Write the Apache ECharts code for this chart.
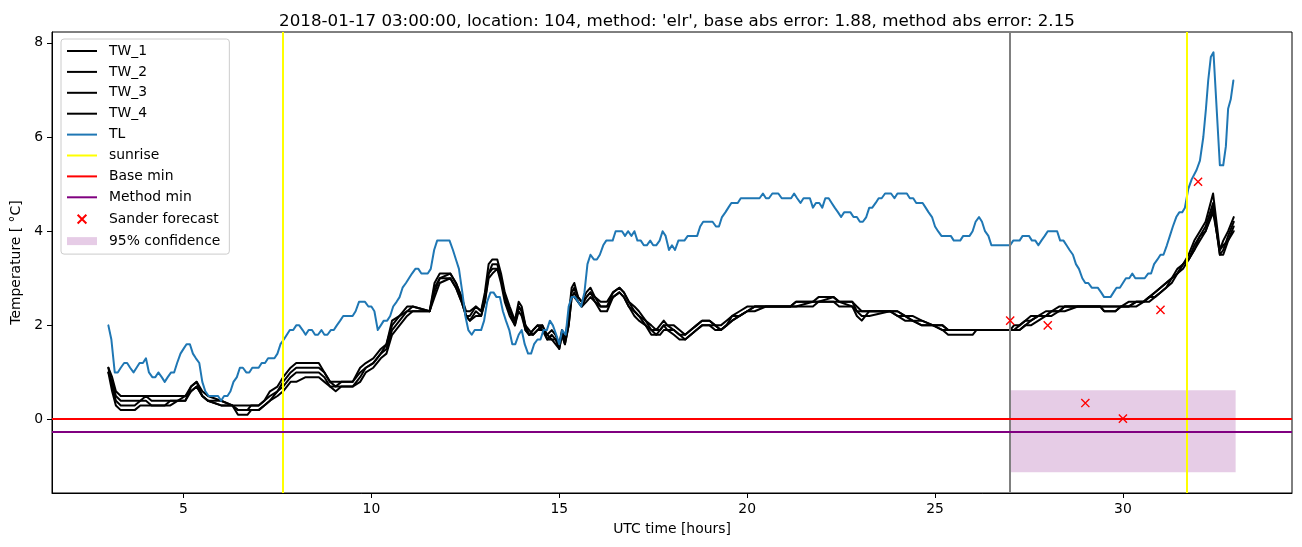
<!DOCTYPE html>
<html>
<head>
<meta charset="utf-8">
<script src="https://cdn.jsdelivr.net/npm/echarts@6/dist/echarts.min.js"></script>
<style>
html,body{margin:0;padding:0;background:#fff;}
#chart{width:1302px;height:547px;}
</style>
</head>
<body>
<div id="chart"></div>
<script>
// ---------------- DATA ----------------
const titleText = "2018-01-17 03:00:00, location: 104, method: 'elr', base abs error: 1.88, method abs error: 2.15";
const xTicks = [5, 10, 15, 20, 25, 30];
const yTicks = [0, 2, 4, 6, 8];

const twHours = [3.00,3.10,3.20,3.33,3.70,3.85,4.00,4.15,4.50,4.65,
 4.85,5.05,5.20,5.35,5.50,5.65,6.00,6.30,6.45,6.70,
 6.80,7.00,7.15,7.30,7.50,7.65,7.85,8.00,8.25,8.60,
 8.75,8.90,9.05,9.20,9.50,9.70,9.85,10.05,10.25,10.40,
 10.55,10.75,10.95,11.10,11.55,11.68,11.82,12.10,12.25,12.40,
 12.52,12.62,12.78,12.92,13.02,13.12,13.22,13.35,13.45,13.55,
 13.68,13.82,13.92,14.00,14.10,14.20,14.30,14.42,14.55,14.68,
 14.80,14.90,15.00,15.07,15.15,15.25,15.33,15.40,15.50,15.60,
 15.72,15.83,15.95,16.10,16.27,16.43,16.60,16.72,16.85,17.00,
 17.12,17.30,17.45,17.58,17.68,17.78,17.88,18.05,18.20,18.35,
 18.50,18.65,18.80,19.00,19.15,19.30,19.45,19.60,19.80,20.00,
 20.20,20.50,21.15,21.30,21.75,21.90,22.30,22.45,22.80,22.92,
 23.05,23.15,23.25,23.80,24.00,24.20,24.40,24.65,24.95,25.20,
 25.35,26.00,26.10,27.00,27.10,27.25,27.40,27.55,27.75,27.95,
 28.10,28.30,28.45,28.80,29.40,29.50,29.80,29.95,30.15,30.35,
 30.55,30.70,30.85,31.00,31.15,31.30,31.45,31.60,31.75,31.90,
 32.05,32.20,32.40,32.58,32.67,32.80,32.95];

const tw1 = [1.1,0.9,0.6,0.5,0.5,0.5,0.5,0.5,0.5,0.5,
 0.5,0.5,0.7,0.8,0.6,0.5,0.4,0.3,0.3,0.3,
 0.3,0.3,0.4,0.6,0.7,0.9,1.1,1.2,1.2,1.2,
 1.0,0.8,0.8,0.8,0.8,1.1,1.2,1.3,1.5,1.6,
 2.1,2.2,2.4,2.4,2.3,2.9,3.1,3.1,2.9,2.6,
 2.3,2.3,2.4,2.3,2.7,3.3,3.4,3.4,3.1,2.7,
 2.4,2.1,2.5,2.4,2.0,1.8,1.9,2.0,2.0,1.8,
 1.9,1.8,1.6,1.9,1.7,2.2,2.8,2.9,2.6,2.5,
 2.7,2.8,2.6,2.5,2.5,2.7,2.8,2.7,2.5,2.4,
 2.3,2.1,2.0,1.9,2.0,2.1,2.0,2.0,1.9,1.8,
 1.9,2.0,2.1,2.1,2.0,2.0,2.1,2.2,2.3,2.4,
 2.4,2.4,2.4,2.5,2.5,2.6,2.6,2.5,2.5,2.4,
 2.3,2.3,2.3,2.3,2.3,2.2,2.2,2.1,2.0,2.0,
 1.9,1.9,1.9,1.9,2.0,2.0,2.1,2.2,2.2,2.3,
 2.3,2.4,2.4,2.4,2.4,2.4,2.4,2.4,2.5,2.5,
 2.5,2.6,2.7,2.8,2.9,3.0,3.2,3.3,3.5,3.8,
 4.0,4.2,4.8,3.6,3.8,4.0,4.3];

const tw2 = [1.0,0.8,0.5,0.4,0.4,0.4,0.5,0.4,0.4,0.4,
 0.4,0.5,0.6,0.7,0.5,0.4,0.4,0.3,0.2,0.2,
 0.3,0.3,0.4,0.5,0.6,0.8,1.0,1.1,1.1,1.1,
 1.0,0.8,0.7,0.8,0.8,1.0,1.1,1.2,1.4,1.6,
 2.0,2.2,2.3,2.4,2.3,2.8,3.0,3.1,2.9,2.6,
 2.2,2.2,2.4,2.3,2.6,3.1,3.3,3.3,3.0,2.6,
 2.3,2.1,2.4,2.3,2.0,1.9,1.8,1.9,2.0,1.7,
 1.8,1.7,1.6,1.8,1.7,2.1,2.7,2.8,2.6,2.5,
 2.6,2.7,2.6,2.4,2.4,2.7,2.8,2.7,2.5,2.3,
 2.2,2.1,1.9,1.9,1.9,2.0,2.0,1.9,1.8,1.8,
 1.9,2.0,2.1,2.1,2.0,1.9,2.0,2.2,2.2,2.3,
 2.4,2.4,2.4,2.5,2.5,2.5,2.6,2.5,2.5,2.3,
 2.3,2.3,2.3,2.3,2.3,2.2,2.1,2.1,2.0,2.0,
 1.9,1.9,1.9,1.9,1.9,2.0,2.1,2.1,2.2,2.2,
 2.3,2.3,2.4,2.4,2.4,2.4,2.4,2.4,2.4,2.5,
 2.5,2.6,2.7,2.8,2.9,3.0,3.1,3.3,3.4,3.7,
 3.9,4.1,4.6,3.5,3.6,3.9,4.2];

const tw3 = [1.1,0.7,0.4,0.3,0.3,0.4,0.4,0.3,0.3,0.4,
 0.4,0.4,0.7,0.8,0.5,0.4,0.3,0.3,0.2,0.2,
 0.2,0.2,0.3,0.4,0.6,0.7,0.9,1.0,1.0,1.0,
 0.9,0.7,0.6,0.7,0.7,0.9,1.1,1.2,1.4,1.5,
 1.9,2.1,2.3,2.3,2.3,2.7,3.0,3.0,2.8,2.5,
 2.2,2.1,2.3,2.2,2.5,3.1,3.2,3.2,3.0,2.6,
 2.3,2.0,2.4,2.3,1.9,1.8,1.9,2.0,1.9,1.8,
 1.7,1.7,1.5,1.8,1.6,2.0,2.6,2.7,2.5,2.4,
 2.6,2.7,2.5,2.4,2.4,2.6,2.7,2.6,2.4,2.3,
 2.2,2.0,1.9,1.8,1.9,2.0,1.9,1.9,1.8,1.7,
 1.8,1.9,2.0,2.0,2.0,1.9,2.0,2.1,2.2,2.3,
 2.4,2.4,2.4,2.4,2.5,2.5,2.5,2.5,2.4,2.3,
 2.2,2.2,2.3,2.3,2.2,2.2,2.1,2.0,2.0,1.9,
 1.9,1.9,1.9,1.9,1.9,1.9,2.0,2.1,2.2,2.2,
 2.3,2.3,2.4,2.4,2.4,2.3,2.3,2.4,2.4,2.5,
 2.5,2.6,2.6,2.7,2.8,3.0,3.1,3.3,3.4,3.6,
 3.9,4.0,4.4,3.6,3.7,3.8,4.0];

const tw4 = [1.0,0.6,0.3,0.2,0.2,0.3,0.3,0.3,0.3,0.3,
 0.4,0.4,0.6,0.7,0.5,0.4,0.3,0.3,0.1,0.1,
 0.2,0.2,0.3,0.4,0.5,0.6,0.8,0.8,0.9,0.9,
 0.8,0.7,0.7,0.7,0.7,0.8,1.0,1.1,1.3,1.4,
 1.8,2.0,2.2,2.3,2.3,2.6,2.9,3.0,2.8,2.5,
 2.2,2.1,2.2,2.2,2.5,3.0,3.1,3.2,2.9,2.5,
 2.2,2.0,2.3,2.2,1.9,1.8,1.8,1.9,1.9,1.7,
 1.7,1.6,1.5,1.8,1.6,2.0,2.6,2.6,2.5,2.4,
 2.5,2.6,2.5,2.3,2.3,2.6,2.7,2.6,2.4,2.2,
 2.1,2.0,1.8,1.8,1.8,1.9,1.9,1.8,1.7,1.7,
 1.8,1.9,2.0,2.0,1.9,1.9,2.0,2.1,2.2,2.3,
 2.3,2.4,2.4,2.4,2.4,2.5,2.5,2.4,2.4,2.2,
 2.1,2.2,2.2,2.3,2.2,2.1,2.1,2.0,2.0,1.9,
 1.8,1.8,1.9,1.9,1.9,1.9,2.0,2.0,2.1,2.2,
 2.2,2.3,2.3,2.4,2.4,2.3,2.3,2.4,2.4,2.4,
 2.5,2.5,2.6,2.7,2.8,2.9,3.1,3.2,3.4,3.6,
 3.8,4.0,4.5,3.5,3.5,3.8,4.1];

// TL: [hour, temperature]
const tlPoints = [[3.00,2.0],[3.08,1.7],[3.17,1.0],[3.25,1.0],[3.33,1.1],[3.42,1.2],[3.50,1.2],[3.58,1.1],[3.67,1.0],[3.75,1.1],[3.83,1.2],[3.92,1.2],[4.00,1.3],[4.08,1.0],[4.17,0.9],[4.25,0.9],[4.33,1.0],[4.42,0.9],[4.50,0.8],[4.58,0.9],[4.67,1.0],[4.75,1.0],[4.83,1.2],[4.92,1.4],[5.00,1.5],[5.08,1.6],[5.17,1.6],[5.25,1.4],[5.33,1.3],[5.42,1.2],[5.50,0.8],[5.58,0.6],[5.67,0.5],[5.75,0.5],[5.83,0.5],[5.92,0.5],[6.00,0.4],[6.08,0.5],[6.17,0.5],[6.25,0.6],[6.33,0.8],[6.42,0.9],[6.50,1.1],[6.58,1.1],[6.67,1.0],[6.75,1.0],[6.83,1.1],[6.92,1.1],[7.00,1.1],[7.08,1.2],[7.17,1.2],[7.25,1.3],[7.33,1.3],[7.42,1.3],[7.50,1.4],[7.58,1.6],[7.67,1.7],[7.75,1.8],[7.83,1.9],[7.92,1.9],[8.00,2.0],[8.08,2.0],[8.17,1.9],[8.25,1.8],[8.33,1.9],[8.42,1.9],[8.50,1.8],[8.58,1.8],[8.67,1.9],[8.75,1.8],[8.83,1.8],[8.92,1.9],[9.00,1.9],[9.08,2.0],[9.17,2.1],[9.25,2.2],[9.42,2.2],[9.50,2.2],[9.58,2.3],[9.67,2.5],[9.83,2.5],[9.92,2.4],[10.00,2.4],[10.08,2.3],[10.17,1.9],[10.25,2.0],[10.33,2.1],[10.42,2.1],[10.50,2.2],[10.58,2.4],[10.67,2.5],[10.75,2.6],[10.83,2.8],[10.92,2.9],[11.00,3.0],[11.08,3.1],[11.17,3.2],[11.25,3.2],[11.33,3.1],[11.42,3.1],[11.50,3.1],[11.58,3.2],[11.67,3.6],[11.75,3.8],[12.08,3.8],[12.17,3.6],[12.25,3.4],[12.33,3.2],[12.42,2.7],[12.50,2.2],[12.58,1.9],[12.67,1.8],[12.75,1.9],[12.92,1.9],[13.00,2.1],[13.08,2.5],[13.17,2.7],[13.25,2.7],[13.33,2.6],[13.42,2.6],[13.50,2.3],[13.58,2.1],[13.67,1.9],[13.75,1.6],[13.83,1.6],[13.92,1.8],[14.00,1.9],[14.08,1.6],[14.17,1.4],[14.25,1.4],[14.33,1.6],[14.42,1.7],[14.50,1.7],[14.58,1.9],[14.67,1.9],[14.75,2.1],[14.83,2.0],[14.92,1.8],[15.00,1.6],[15.08,1.9],[15.17,1.8],[15.25,2.4],[15.33,2.6],[15.42,2.6],[15.50,2.5],[15.58,2.4],[15.67,2.7],[15.75,3.3],[15.83,3.5],[15.92,3.4],[16.00,3.4],[16.08,3.5],[16.17,3.7],[16.25,3.8],[16.42,3.8],[16.50,4.0],[16.67,4.0],[16.75,3.9],[16.83,4.0],[16.92,3.9],[17.00,4.0],[17.08,3.8],[17.17,3.8],[17.25,3.7],[17.33,3.7],[17.42,3.8],[17.50,3.7],[17.58,3.7],[17.67,3.8],[17.75,4.0],[17.83,3.9],[17.92,3.6],[18.00,3.7],[18.08,3.6],[18.17,3.8],[18.33,3.8],[18.42,3.9],[18.67,3.9],[18.75,4.1],[18.83,4.2],[19.08,4.2],[19.17,4.1],[19.25,4.1],[19.33,4.3],[19.42,4.4],[19.50,4.5],[19.58,4.6],[19.75,4.6],[19.83,4.7],[20.33,4.7],[20.42,4.8],[20.50,4.7],[20.58,4.7],[20.67,4.8],[20.83,4.8],[20.92,4.7],[21.17,4.7],[21.25,4.8],[21.33,4.7],[21.42,4.6],[21.50,4.7],[21.67,4.7],[21.75,4.5],[21.83,4.6],[21.92,4.6],[22.00,4.5],[22.08,4.7],[22.17,4.7],[22.25,4.6],[22.33,4.5],[22.42,4.4],[22.50,4.3],[22.58,4.4],[22.75,4.4],[22.83,4.3],[22.92,4.3],[23.00,4.2],[23.08,4.2],[23.17,4.3],[23.25,4.5],[23.33,4.5],[23.42,4.6],[23.50,4.7],[23.58,4.7],[23.67,4.8],[23.83,4.8],[23.92,4.7],[24.00,4.8],[24.25,4.8],[24.33,4.7],[24.42,4.7],[24.50,4.6],[24.67,4.6],[24.75,4.5],[24.83,4.4],[24.92,4.3],[25.00,4.1],[25.08,4.0],[25.17,3.9],[25.42,3.9],[25.50,3.8],[25.67,3.8],[25.75,3.9],[25.92,3.9],[26.00,4.0],[26.08,4.2],[26.17,4.3],[26.25,4.2],[26.33,4.0],[26.42,3.9],[26.50,3.7],[27.00,3.7],[27.08,3.8],[27.25,3.8],[27.33,3.9],[27.50,3.9],[27.58,3.8],[27.67,3.8],[27.75,3.7],[27.83,3.8],[27.92,3.9],[28.00,4.0],[28.25,4.0],[28.33,3.8],[28.42,3.8],[28.50,3.7],[28.58,3.6],[28.67,3.5],[28.75,3.3],[28.83,3.2],[28.92,3.0],[29.00,2.9],[29.08,2.9],[29.17,2.8],[29.33,2.8],[29.42,2.7],[29.50,2.6],[29.67,2.6],[29.75,2.7],[29.83,2.8],[29.92,2.8],[30.00,2.9],[30.08,3.0],[30.17,3.0],[30.25,3.1],[30.33,3.0],[30.58,3.0],[30.67,3.1],[30.75,3.1],[30.83,3.3],[30.92,3.4],[31.00,3.5],[31.08,3.5],[31.17,3.7],[31.25,3.9],[31.33,4.1],[31.42,4.3],[31.50,4.4],[31.58,4.4],[31.65,4.5],[31.74,4.9],[31.83,5.1],[31.96,5.3],[32.05,5.5],[32.14,6.0],[32.21,6.6],[32.27,7.2],[32.34,7.7],[32.41,7.8],[32.58,5.4],[32.67,5.4],[32.74,5.8],[32.80,6.6],[32.87,6.8],[32.94,7.2]];

const forecastHours = [27, 28, 29, 30, 31, 32];
const forecastValues = [2.1, 2.0, 0.35, 0.02, 2.33, 5.05];
const sunriseHours = [7.63, 31.70];
const nowHour = [27.0];
const baseMin = [0.02];
const methodMin = [-0.26];
const confHours = [27.0, 33.0];
const confRange = [-1.12, 0.62];

// ---------------- CHART ----------------
const FONT = 'DejaVu Sans';
const chart = echarts.init(document.getElementById('chart'), null, {renderer: 'canvas'});
const pairs = (xs, ys) => xs.map((x, i) => [x, ys[i]]);
const xPath = 'path://M-3,-3M13,13M0,0L10,10M10,0L0,10';
const confIcon = 'path://M0,0M30,14M0,3L30,3L30,11L0,11Z';
const lineIcon = 'path://M0,0M30,14M0,6L30,6L30,8L0,8Z';

function lineSeries(name, data, color) {
  return {
    name: name, type: 'line', data: data, showSymbol: false, symbol: 'none',
    animation: false, z: 3,
    itemStyle: {color: color},
    lineStyle: {color: color, width: 2, join: 'round', cap: 'round'}
  };
}
function refLine(name, color, lines) {
  return {
    name: name, type: 'line', data: [], animation: false, z: 4, symbol: 'none',
    itemStyle: {color: color},
    lineStyle: {color: color, width: 2},
    markLine: {
      silent: true, symbol: ['none', 'none'], animation: false,
      label: {show: false},
      lineStyle: {color: color, width: 2, type: 'solid'},
      emphasis: {disabled: true},
      data: lines
    }
  };
}

const option = {
  backgroundColor: '#fff',
  animation: false,
  title: {
    text: titleText, left: 672, top: 8, textAlign: 'center',
    textStyle: {fontFamily: FONT, fontSize: 16.7, fontWeight: 'normal', color: '#000'}
  },
  grid: {left: 52, right: 10, top: 32, bottom: 54, show: true, borderColor: '#000', borderWidth: 1, backgroundColor: 'transparent'},
  legend: {
    orient: 'vertical', left: 61, top: 39,
    padding: [5, 9, 6, 6],
    itemWidth: 30, itemHeight: 14, itemGap: 6.9,
    backgroundColor: 'rgba(255,255,255,0.8)',
    borderColor: '#cccccc', borderWidth: 1, borderRadius: 3,
    textStyle: {fontFamily: FONT, fontSize: 13.9, color: '#000', padding: [0, 0, 0, 7]},
    selectedMode: false,
    data: [
      {name: 'TW_1', icon: lineIcon}, {name: 'TW_2', icon: lineIcon},
      {name: 'TW_3', icon: lineIcon}, {name: 'TW_4', icon: lineIcon},
      {name: 'TL', icon: lineIcon},
      {name: 'sunrise', icon: lineIcon}, {name: 'Base min', icon: lineIcon},
      {name: 'Method min', icon: lineIcon},
      {name: 'Sander forecast', icon: xPath},
      {name: '95% confidence', icon: confIcon}
    ]
  },
  xAxis: {
    type: 'value', min: 1.5, max: 34.5,
    name: 'UTC time [hours]', nameLocation: 'middle', nameGap: 29,
    nameTextStyle: {fontFamily: FONT, fontSize: 13.9, color: '#000'},
    axisLine: {show: true, onZero: false, lineStyle: {color: '#000', width: 1}},
    axisTick: {show: true, length: 5, lineStyle: {color: '#000', width: 1}, customValues: xTicks},
    axisLabel: {customValues: xTicks, fontFamily: FONT, fontSize: 13.9, color: '#000', margin: 9},
    splitLine: {show: false}
  },
  yAxis: {
    type: 'value', min: -1.56, max: 8.23,
    name: 'Temperature [ °C]', nameLocation: 'middle', nameGap: 28,
    nameTextStyle: {fontFamily: FONT, fontSize: 13.9, color: '#000'},
    axisLine: {show: true, onZero: false, lineStyle: {color: '#000', width: 1}},
    axisTick: {show: true, length: 5, lineStyle: {color: '#000', width: 1}, customValues: yTicks},
    axisLabel: {customValues: yTicks, fontFamily: FONT, fontSize: 13.9, color: '#000', margin: 9},
    splitLine: {show: false}
  },
  series: [
    {
      name: '95% confidence', type: 'scatter', data: [], z: 1,
      itemStyle: {color: 'rgba(128,0,128,0.2)', opacity: 1},
      markArea: {
        silent: true, animation: false,
        itemStyle: {color: 'rgba(128,0,128,0.2)', opacity: 1},
        data: [[{xAxis: confHours[0], yAxis: confRange[0]}, {xAxis: confHours[1], yAxis: confRange[1]}]]
      }
    },
    lineSeries('TW_1', pairs(twHours, tw1), '#000000'),
    lineSeries('TW_2', pairs(twHours, tw2), '#000000'),
    lineSeries('TW_3', pairs(twHours, tw3), '#000000'),
    lineSeries('TW_4', pairs(twHours, tw4), '#000000'),
    lineSeries('TL', tlPoints, '#1f77b4'),
    refLine('sunrise', '#ffff00', sunriseHours.map(h => ({xAxis: h}))),
    refLine('now', '#808080', nowHour.map(h => ({xAxis: h}))),
    refLine('Base min', '#ff0000', baseMin.map(v => ({yAxis: v}))),
    refLine('Method min', '#800080', methodMin.map(v => ({yAxis: v}))),
    {
      name: 'Sander forecast', type: 'scatter', z: 6,
      data: pairs(forecastHours, forecastValues),
      symbol: xPath, symbolSize: 13,
      itemStyle: {color: '#ff0000', borderColor: '#ff0000', borderWidth: 1.4, opacity: 1}
    }
  ]
};
chart.setOption(option);
</script>
</body>
</html>
